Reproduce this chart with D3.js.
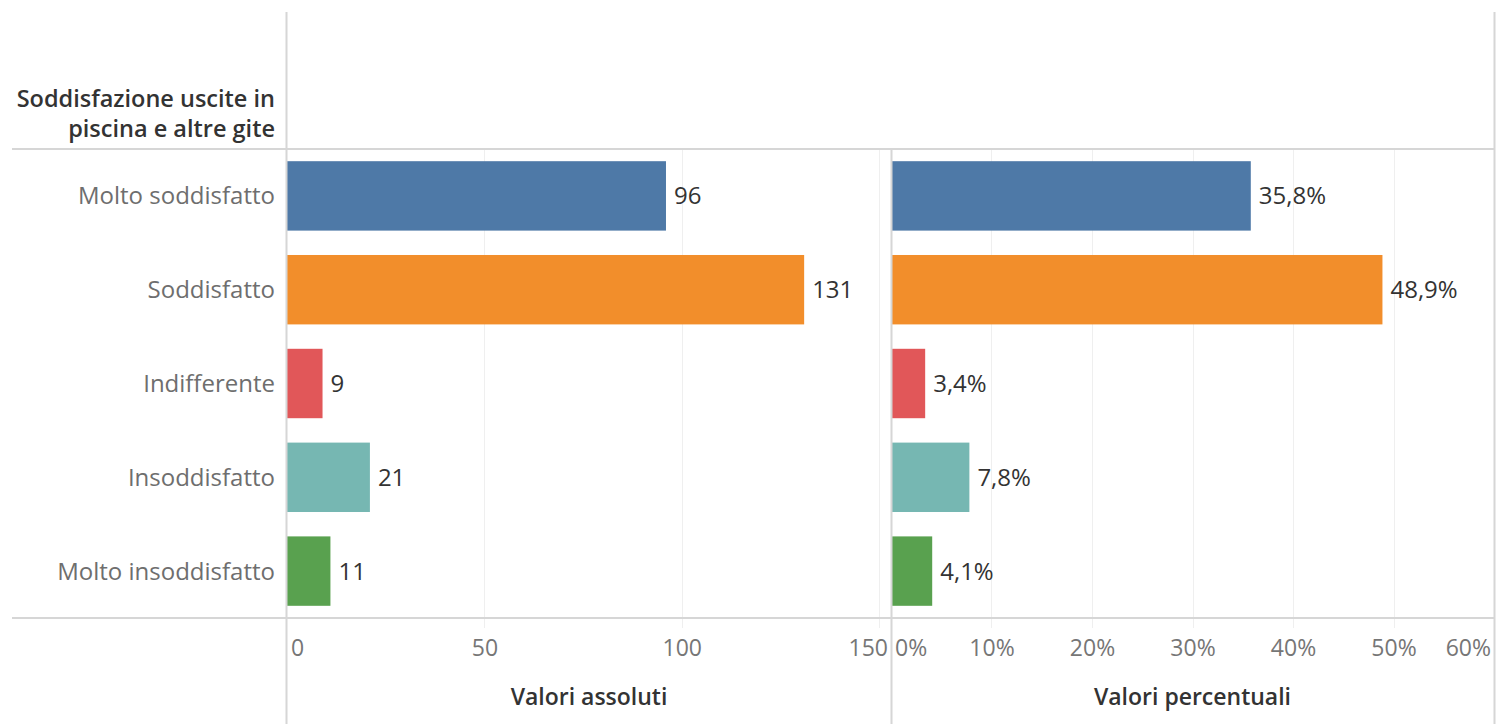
<!DOCTYPE html>
<html>
<head>
<meta charset="utf-8">
<script src="https://cdn.jsdelivr.net/npm/d3@7"></script>
<style>
  body { margin: 0; background: #fff; }
  svg { display: block; font-family: "Open Sans", Lato, sans-serif; }
</style>
</head>
<body>
<svg width="1498" height="724"></svg>
<script>
const categories = [
  "Molto soddisfatto",
  "Soddisfatto",
  "Indifferente",
  "Insoddisfatto",
  "Molto insoddisfatto",
];
const counts = [96, 131, 9, 21, 11];
const shares = [0.358, 0.489, 0.034, 0.078, 0.041];
const colors = ["#4e79a7", "#f28e2b", "#e15759", "#76b7b2", "#59a14f"];
const countTicks = [0, 50, 100, 150];
const shareTicks = [0, 0.1, 0.2, 0.3, 0.4, 0.5, 0.6];
const headerLines = ["Soddisfazione uscite in", "piscina e altre gite"];
const axisTitles = ["Valori assoluti", "Valori percentuali"];

const it = d3.formatLocale({ decimal: ",", thousands: ".", grouping: [3], currency: ["€", ""] });
const pct1 = it.format(".1%");
const pct0 = it.format(".0%");

const svg = d3.select("svg");
const plotTop = 149, plotBottom = 618;
const labelRight = 275;
const fontSize = 24;

const y = d3.scaleBand().domain(categories).range([plotTop, plotBottom]).paddingInner(0.26).paddingOuter(0.13);

const panels = [
  { x: d3.scaleLinear().domain([0, 153]).range([287, 891]), values: counts, ticks: countTicks, fmt: d => d, label: d => d, title: axisTitles[0] },
  { x: d3.scaleLinear().domain([0, 0.6]).range([891, 1494]), values: shares, ticks: shareTicks, fmt: pct0, label: pct1, title: axisTitles[1] },
];

const lineColor = "#d6d6d6";
const gridColor = "#efefef";

panels.forEach(p => {
  const [x0, x1] = p.x.range();

  // gridlines
  svg.append("g")
    .selectAll("line")
    .data(p.ticks.filter(t => t > 0))
    .join("line")
    .attr("x1", d => Math.round(p.x(d)) + 0.5)
    .attr("x2", d => Math.round(p.x(d)) + 0.5)
    .attr("y1", plotTop)
    .attr("y2", plotBottom + 10)
    .attr("stroke", gridColor);

  // bars
  svg.append("g")
    .selectAll("rect")
    .data(p.values)
    .join("rect")
    .attr("x", x0)
    .attr("y", (d, i) => y(categories[i]))
    .attr("width", d => p.x(d) - x0)
    .attr("height", y.bandwidth())
    .attr("fill", (d, i) => colors[i]);

  // value labels
  svg.append("g")
    .selectAll("text")
    .data(p.values)
    .join("text")
    .attr("x", d => p.x(d) + 8)
    .attr("y", (d, i) => y(categories[i]) + y.bandwidth() / 2)
    .attr("dy", "0.35em")
    .attr("font-size", fontSize)
    .attr("fill", "#333")
    .text(p.label);

  // bottom axis
  const axis = svg.append("g")
    .attr("transform", `translate(0,${plotBottom})`)
    .call(d3.axisBottom(p.x).tickValues(p.ticks).tickFormat(p.fmt).tickSize(0).tickPadding(22));
  axis.select(".domain").remove();
  axis.selectAll("text")
    .attr("font-size", 23)
    .attr("font-family", "'Open Sans', Lato, sans-serif")
    .attr("fill", "#767676")
    .each(function () {
      const t = d3.select(this);
      const tick = d3.select(this.parentNode);
      const cx = +tick.attr("transform").match(/translate\(([-\d.]+)/)[1];
      const w = this.getComputedTextLength();
      let left = cx - w / 2;
      left = Math.max(x0 + 4, Math.min(x1 - 3 - w, left));
      t.attr("x", left - cx + w / 2);
    });

  svg.append("text")
    .attr("x", (x0 + x1) / 2)
    .attr("y", 705)
    .attr("text-anchor", "middle")
    .attr("font-size", 23)
    .attr("font-weight", 600)
    .attr("fill", "#333")
    .text(p.title);
});

// frame lines
const frame = [
  [12, plotTop, 1495, plotTop],
  [12, plotBottom, 1495, plotBottom],
  [286.5, 12, 286.5, 724],
  [891.5, plotTop, 891.5, 724],
  [1494.5, 12, 1494.5, 724],
];
svg.append("g")
  .selectAll("line")
  .data(frame)
  .join("line")
  .attr("x1", d => d[0])
  .attr("y1", d => d[1])
  .attr("x2", d => d[2])
  .attr("y2", d => d[3])
  .attr("stroke", lineColor)
  .attr("stroke-width", 2);

// row labels
svg.append("g")
  .selectAll("text")
  .data(categories)
  .join("text")
  .attr("x", labelRight)
  .attr("y", d => y(d) + y.bandwidth() / 2)
  .attr("dy", "0.35em")
  .attr("text-anchor", "end")
  .attr("font-size", fontSize)
  .attr("fill", "#6e6e6e")
  .text(d => d);

// header
svg.append("g")
  .selectAll("text")
  .data(headerLines)
  .join("text")
  .attr("x", labelRight)
  .attr("y", (d, i) => 107 + i * 30)
  .attr("text-anchor", "end")
  .attr("font-size", 23.5)
  .attr("font-weight", 600)
  .attr("fill", "#333")
  .text(d => d);
</script>
</body>
</html>
